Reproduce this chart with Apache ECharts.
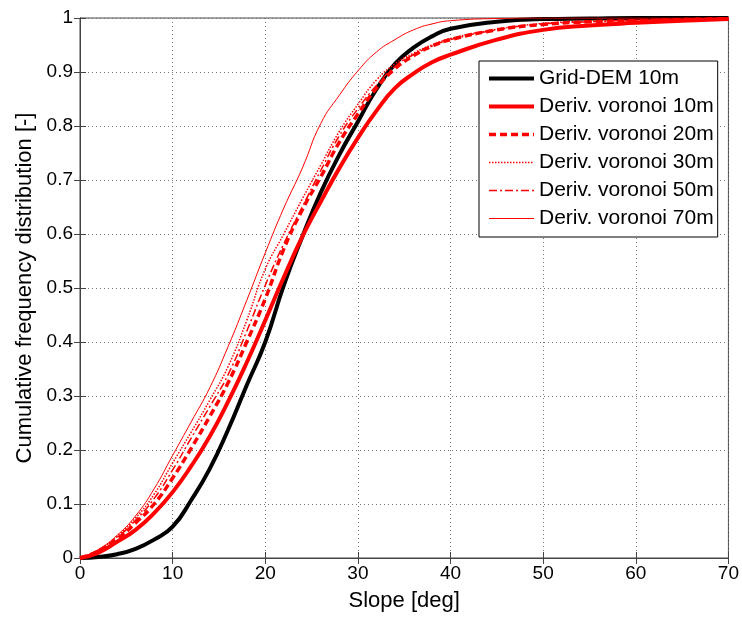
<!DOCTYPE html>
<html>
<head>
<meta charset="utf-8">
<script src="https://cdn.jsdelivr.net/npm/echarts@6/dist/echarts.min.js"></script>
<style>
  html, body { margin: 0; padding: 0; background: #fff; }
  #chart-container { width: 742px; height: 617px; }
</style>
</head>
<body>
<div id="chart-container"></div>
<script>
// slope values (deg) where the curves were read
var slope = [0, 2, 4, 6, 8, 10, 12, 14, 16, 18, 20, 22, 24, 26, 28, 30, 32, 34, 36, 38, 40, 45, 50, 55, 60, 65, 70];

var gridDem10 = [0, 0.002, 0.007, 0.017, 0.034, 0.058, 0.107, 0.165, 0.238, 0.32, 0.40, 0.505, 0.595, 0.677, 0.747, 0.808, 0.868, 0.915, 0.945, 0.966, 0.98, 0.993, 0.998, 0.999, 1, 1, 1];
var voronoi10 = [0, 0.01, 0.03, 0.052, 0.083, 0.122, 0.17, 0.225, 0.29, 0.362, 0.44, 0.52, 0.595, 0.66, 0.722, 0.778, 0.828, 0.87, 0.897, 0.918, 0.932, 0.96, 0.978, 0.986, 0.991, 0.995, 0.998];
var voronoi20 = [0, 0.013, 0.035, 0.065, 0.1, 0.148, 0.203, 0.262, 0.325, 0.4, 0.48, 0.572, 0.645, 0.706, 0.77, 0.822, 0.87, 0.906, 0.93, 0.948, 0.96, 0.978, 0.988, 0.993, 0.995, 0.997, 0.999];
var voronoi30 = [0, 0.015, 0.04, 0.074, 0.118, 0.176, 0.233, 0.292, 0.355, 0.44, 0.535, 0.6, 0.665, 0.728, 0.79, 0.84, 0.885, 0.915, 0.935, 0.95, 0.962, 0.979, 0.99, 0.994, 0.996, 0.998, 0.999];
var voronoi50 = [0, 0.014, 0.038, 0.07, 0.11, 0.163, 0.222, 0.28, 0.34, 0.42, 0.505, 0.582, 0.65, 0.718, 0.782, 0.832, 0.875, 0.91, 0.932, 0.948, 0.96, 0.978, 0.989, 0.993, 0.996, 0.998, 0.999];
var voronoi70 = [0, 0.016, 0.042, 0.078, 0.128, 0.19, 0.252, 0.315, 0.392, 0.477, 0.565, 0.648, 0.722, 0.805, 0.857, 0.902, 0.937, 0.96, 0.978, 0.989, 0.995, 0.999, 1, 1, 1, 1, 1];

var names = ['Grid-DEM 10m', 'Deriv. voronoi 10m', 'Deriv. voronoi 20m', 'Deriv. voronoi 30m', 'Deriv. voronoi 50m', 'Deriv. voronoi 70m'];
var colors = ['#000', '#ff0000', '#ff0000', '#ff0000', '#ff0000', '#ff0000'];
var widths = [4, 4, 3.5, 1.5, 1.5, 1];
var dashes = ['solid', 'solid', [7, 4], [1.5, 1.5], [8, 3, 2, 3], 'solid'];

function pairs(ys) {
  return slope.map(function (x, i) { return [x, ys[i]]; });
}

var chartDom = document.getElementById('chart-container');
var myChart = echarts.init(chartDom);

var font = 'Liberation Sans, Arial, sans-serif';
var axisCol = '#444';

var allY = [gridDem10, voronoi10, voronoi20, voronoi30, voronoi50, voronoi70];

var series = names.map(function (name, i) {
  return {
    name: name,
    type: 'line',
    data: pairs(allY[i]),
    symbol: 'none',
    smooth: true,
    lineStyle: { color: colors[i], width: widths[i], type: dashes[i] },
    itemStyle: { color: colors[i] },
    emphasis: { disabled: true },
    animation: false
  };
});

// legend keeps the line sample but hides the marker circle
var legendData = names.map(function (name, i) {
  return {
    name: name,
    itemStyle: { color: 'rgba(0,0,0,0)', borderColor: 'rgba(0,0,0,0)', borderWidth: 0 },
    lineStyle: { color: colors[i], width: widths[i], type: dashes[i] }
  };
});

var option = {
  backgroundColor: '#fff',
  animation: false,
  grid: { left: 80, right: 7, top: 18, bottom: 57, show: true, borderColor: axisCol, borderWidth: 1, backgroundColor: '#fff' },
  legend: {
    data: legendData,
    left: 479,
    top: 61,
    orient: 'vertical',
    backgroundColor: '#fff',
    borderColor: '#000',
    borderWidth: 1,
    borderRadius: 0,
    padding: [7, 4, 8, 8],
    itemWidth: 45,
    itemHeight: 14,
    itemGap: 7,
    textStyle: { fontFamily: font, fontSize: 21, color: '#000' }
  },
  xAxis: [{
    type: 'value',
    min: 0, max: 70, interval: 10,
    name: 'Slope [deg]',
    nameLocation: 'middle',
    nameGap: 32,
    nameTextStyle: { fontFamily: font, fontSize: 22, color: '#000' },
    axisLine: { show: true, lineStyle: { color: axisCol } },
    axisTick: { show: true, inside: true, length: 6, lineStyle: { color: axisCol } },
    axisLabel: { fontFamily: font, fontSize: 19, color: '#000', margin: 6 },
    splitLine: { show: true, lineStyle: { color: '#777', type: [1, 3] } }
  }, {
    type: 'value', position: 'top',
    min: 0, max: 70, interval: 10,
    axisLine: { show: true, lineStyle: { color: axisCol } },
    axisTick: { show: true, inside: true, length: 6, lineStyle: { color: axisCol } },
    axisLabel: { show: false },
    splitLine: { show: false }
  }],
  yAxis: [{
    type: 'value',
    min: 0, max: 1, interval: 0.1,
    name: 'Cumulative frequency distribution [-]',
    nameLocation: 'middle',
    nameGap: 41,
    nameTextStyle: { fontFamily: font, fontSize: 22, color: '#000' },
    axisLine: { show: true, lineStyle: { color: axisCol } },
    axisTick: { show: true, inside: true, length: 6, lineStyle: { color: axisCol } },
    axisLabel: { fontFamily: font, fontSize: 19, color: '#000', margin: 7 },
    splitLine: { show: true, lineStyle: { color: '#777', type: [1, 3] } }
  }, {
    type: 'value', position: 'right',
    min: 0, max: 1, interval: 0.1,
    axisLine: { show: true, lineStyle: { color: axisCol } },
    axisTick: { show: true, inside: true, length: 6, lineStyle: { color: axisCol } },
    axisLabel: { show: false },
    splitLine: { show: false }
  }],
  series: series
};

option && myChart.setOption(option);
</script>
</body>
</html>
